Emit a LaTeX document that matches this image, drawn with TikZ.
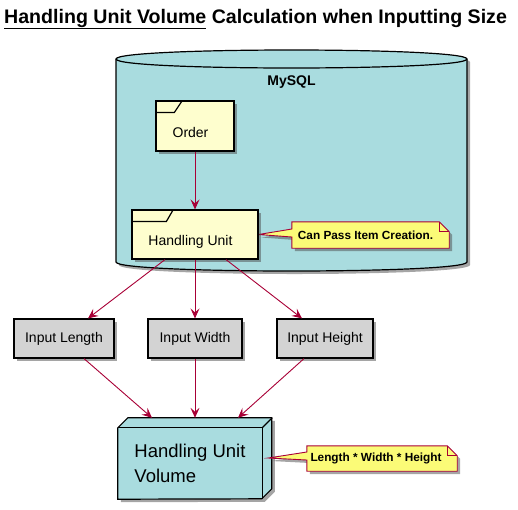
\documentclass[tikz,border=0pt]{standalone}
\usepackage{fontspec}
\setmainfont{Liberation Sans}
\usetikzlibrary{arrows.meta,shadows,calc}
\definecolor{dbfill}{HTML}{A9DCDF}
\definecolor{boxfill}{HTML}{FEFECE}
\definecolor{notefill}{HTML}{FBFB77}
\definecolor{crim}{HTML}{A80036}
\definecolor{inputfill}{HTML}{D3D3D3}
\pgfdeclarelayer{bottom}
\pgfdeclarelayer{background}
\pgfsetlayers{bottom,background,main}
\begin{document}
\begin{tikzpicture}[x=1pt,y=-1pt,
  shadowed/.style={drop shadow={shadow xshift=3pt,shadow yshift=-3pt,opacity=0.5,fill=black!70}},
  folder/.style={draw=black,line width=1.2pt,fill=boxfill,shadowed,font=\fontsize{14}{16}\selectfont,text height=22pt,text depth=0pt,inner sep=0pt},
  inputbox/.style={draw=black,line width=1.2pt,fill=inputfill,shadowed,font=\fontsize{14}{16}\selectfont,inner sep=0pt},
  conn/.style={draw=crim,line width=0.9pt,-{Stealth[length=10pt,width=9pt,inset=4pt]}},
  notetext/.style={font=\fontsize{11.8}{14}\selectfont\bfseries,inner sep=0pt},
  notepath/.style={draw=crim,line width=0.9pt,fill=notefill,shadowed},
  edge3d/.style={draw=black,line width=1.2pt},
]
\useasboundingbox (0,0) rectangle (518,509);

% title
\node[anchor=base west,inner sep=0pt,font=\fontsize{19.6}{22}\selectfont\bfseries] (title) at (4,23) {\underline{Handling Unit Volume} Calculation when Inputting Size};

% database
\begin{pgfonlayer}{bottom}
\path[fill=dbfill,draw=black,line width=1.2pt,shadowed] (116,59) .. controls (116,47) and (467,47) .. (467,59) -- (467,262) .. controls (467,274) and (116,274) .. (116,262) -- cycle;
\draw[line width=1.2pt] (116,59) .. controls (116,71) and (467,71) .. (467,59);
\end{pgfonlayer}
\node[font=\fontsize{14}{16}\selectfont\bfseries] (mysql) at (291.5,82) {MySQL};

% folders
\node[folder,minimum width=78pt,minimum height=50pt] (order) at (195,126) {Order\kern9pt};
\draw[line width=1.2pt] ([yshift=-12pt]order.north west) -- ++(19,0) -- ([xshift=27pt]order.north west);
\node[folder,minimum width=126pt,minimum height=49pt] (hu) at (195,234.5) {Handling Unit\kern9pt};
\draw[line width=1.2pt] ([yshift=-12pt]hu.north west) -- ++(35,0) -- ([xshift=42pt]hu.north west);

% inputs
\node[inputbox,minimum width=100pt,minimum height=39pt] (len) at (64,338.5) {Input Length};
\node[inputbox,minimum width=94pt,minimum height=39pt] (wid) at (195,338.5) {Input Width};
\node[inputbox,minimum width=96pt,minimum height=39pt] (hei) at (325,338.5) {Input Height};

% volume node
\node[minimum width=144pt,minimum height=71pt,inner sep=0pt,align=left,font=\fontsize{18.5}{25}\selectfont] (vol) at (190,463.5) {Handling Unit\\Volume};
\begin{pgfonlayer}{background}
\path[fill=dbfill,draw=black,line width=1.2pt,shadowed] (vol.south west) -- (vol.north west) -- ++(10,-10) -- ++(144,0) -- ++(0,71) -- ++(-10,10) -- cycle;
\draw[edge3d] (vol.north west) -- (vol.north east) -- (vol.south east);
\draw[edge3d] (vol.north east) -- ++(10,-10);
\end{pgfonlayer}

% connectors
\draw[conn] (order.south) -- (hu.north);
\draw[conn] ([xshift=-30pt]hu.south) -- ([xshift=24pt]len.north);
\draw[conn] (hu.south) -- (wid.north);
\draw[conn] ([xshift=31pt]hu.south) -- ([xshift=-23pt]hei.north);
\draw[conn] ([xshift=20pt]len.south) -- ([xshift=-38pt,yshift=10pt]vol.north);
\draw[conn] (wid.south) -- ([xshift=5pt,yshift=10pt]vol.north);
\draw[conn] ([xshift=-21pt]hei.south) -- ([xshift=48pt,yshift=10pt]vol.north);

% notes
\node[notetext,minimum width=157pt,minimum height=26pt] (n1) at (370.5,235) {Can Pass Item Creation.\kern10pt};
\begin{pgfonlayer}{background}
\path[notepath] (n1.north west) -- ([xshift=-10pt]n1.north east) -- ([yshift=-10pt]n1.north east) -- (n1.south east) -- (n1.south west) -- ([yshift=-2pt]n1.west) -- (hu.east) -- ([yshift=6pt]n1.west) -- cycle;
\draw[crim,line width=0.9pt] ([xshift=-10pt]n1.north east) -- ([xshift=-10pt,yshift=-10pt]n1.north east) -- ([yshift=-10pt]n1.north east);
\end{pgfonlayer}

\node[notetext,minimum width=150pt,minimum height=25pt] (n2) at (382,458.5) {Length * Width * Height\kern12pt};
\begin{pgfonlayer}{background}
\path[notepath] (n2.north west) -- ([xshift=-10pt]n2.north east) -- ([yshift=-10pt]n2.north east) -- (n2.south east) -- (n2.south west) -- ([yshift=-1.5pt]n2.west) -- ([xshift=6pt,yshift=5.5pt]vol.east) -- ([yshift=6.5pt]n2.west) -- cycle;
\draw[crim,line width=0.9pt] ([xshift=-10pt]n2.north east) -- ([xshift=-10pt,yshift=-10pt]n2.north east) -- ([yshift=-10pt]n2.north east);
\end{pgfonlayer}
\end{tikzpicture}
\end{document}
